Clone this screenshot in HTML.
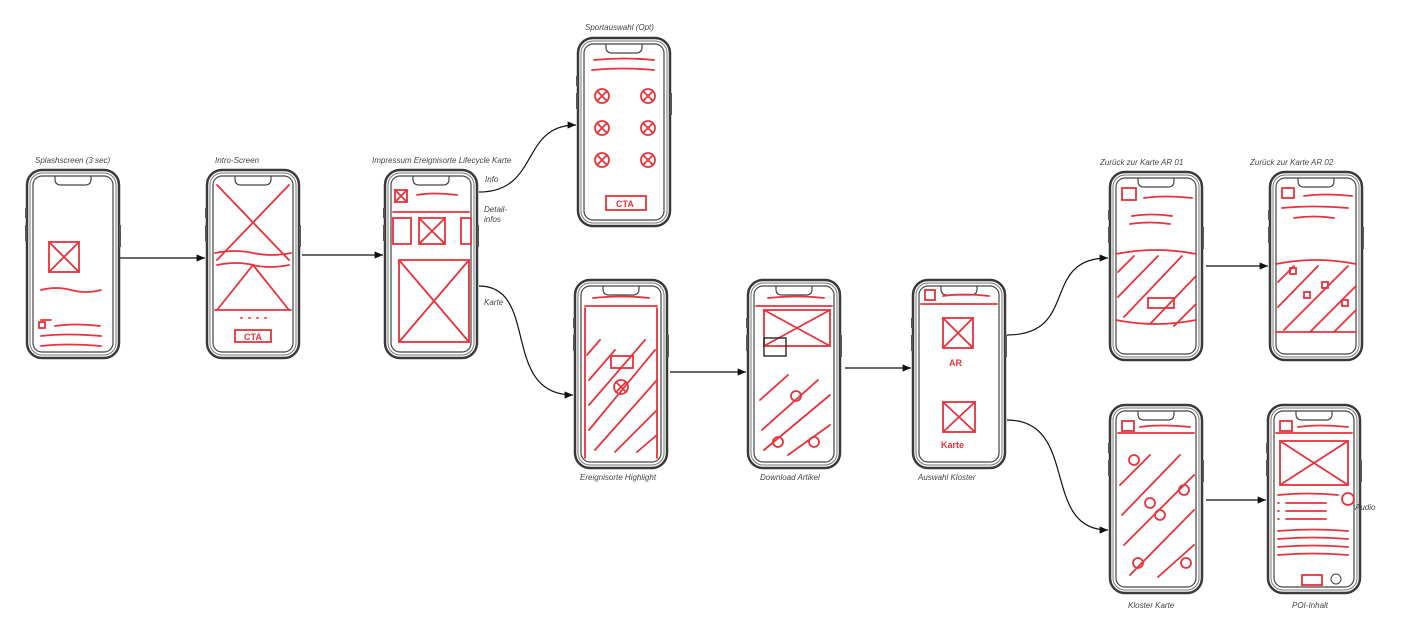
<!DOCTYPE html>
<html><head><meta charset="utf-8"><style>
html,body{margin:0;padding:0;background:#fff;width:1407px;height:623px;overflow:hidden}
svg{display:block}
.r{stroke:#e8323c;stroke-width:1.8;fill:none;stroke-linecap:round}
.t{font-family:"Liberation Sans",sans-serif;font-size:8px;fill:#444;font-style:italic}
.c{font-family:"Liberation Sans",sans-serif;font-size:9px;fill:#e8323c;font-weight:bold}
.a{stroke:#111;stroke-width:1.2;fill:none}
</style></head><body>
<svg width="1407" height="623" viewBox="0 0 1407 623">
<defs>
<g id="ph">
<rect x="0" y="0" width="92" height="188" rx="15" fill="none" stroke="#3a3a3a" stroke-width="2.5"/>
<rect x="3" y="3" width="86" height="182" rx="12" fill="none" stroke="#777" stroke-width="1"/>
<rect x="6" y="6" width="80" height="176" rx="9" fill="none" stroke="#444" stroke-width="1.2"/>
<path d="M28 6 v3 q0 6 6 6 h24 q6 0 6 -6 v-3" fill="none" stroke="#444" stroke-width="1.2"/>
<rect x="-2" y="38" width="2" height="10" fill="#555"/><rect x="-2" y="55" width="2" height="16" fill="#555"/><rect x="92" y="55" width="2" height="22" fill="#555"/>
</g>
<marker id="ar" markerWidth="8" markerHeight="8" refX="7" refY="4" orient="auto"><path d="M0 1 L7 4 L0 7z" fill="#111"/></marker>
</defs>
<!-- arrows -->
<path class="a" d="M120 258 H205" marker-end="url(#ar)"/>
<path class="a" d="M302 255 H383" marker-end="url(#ar)"/>
<path class="a" d="M479 192 C540 192 520 125 576 125" marker-end="url(#ar)"/>
<path class="a" d="M479 286 C540 286 500 395 573 395" marker-end="url(#ar)"/>
<path class="a" d="M670 372 H746" marker-end="url(#ar)"/>
<path class="a" d="M845 368 H911" marker-end="url(#ar)"/>
<path class="a" d="M1007 335 C1080 335 1040 258 1108 258" marker-end="url(#ar)"/>
<path class="a" d="M1206 266 H1268" marker-end="url(#ar)"/>
<path class="a" d="M1007 420 C1080 420 1040 530 1108 530" marker-end="url(#ar)"/>
<path class="a" d="M1206 500 H1266" marker-end="url(#ar)"/>

<!-- 1 splash -->
<text class="t" x="35" y="163">Splashscreen (3 sec)</text>
<g transform="translate(27,170)"><use href="#ph"/>
<rect class="r" x="22" y="72" width="30" height="30"/><path class="r" d="M22 72 L52 102 M52 72 L22 102"/>
<path class="r" d="M14 120 q15 -4 30 0 t30 0"/><path class="r" d="M14 150 h10 M28 156 q20 -3 45 0 M14 166 q25 -3 60 0 M14 176 q25 -3 60 0"/>
<rect class="r" x="12" y="152" width="6" height="6"/>
</g>
<!-- 2 intro -->
<text class="t" x="215" y="163">Intro-Screen</text>
<g transform="translate(207,170)"><use href="#ph"/>
<path class="r" d="M10 15 L82 90 M82 15 L10 90 M8 83 q20-4 38 0 t38 0 M10 95 q20-4 36 0 t36 0 M10 140 L46 95 L82 140 M8 140 h76"/>
<path class="r" d="M34 148 h1 M42 148 h1 M50 148 h1 M58 148 h1"/>
<rect class="r" x="28" y="160" width="36" height="12"/><text class="c" x="37" y="170">CTA</text>
</g>
<!-- 3 -->
<text class="t" x="372" y="163">Impressum Ereignisorte Lifecycle Karte</text>
<g transform="translate(385,170)"><use href="#ph"/>
<rect class="r" x="10" y="20" width="12" height="12"/><path class="r" d="M10 20 L22 32 M22 20 L10 32 M32 25 q15-3 40 0 M8 42 h76"/>
<rect class="r" x="8" y="48" width="18" height="26"/><rect class="r" x="34" y="48" width="26" height="26"/><path class="r" d="M34 48 L60 74 M60 48 L34 74"/><rect class="r" x="76" y="48" width="10" height="26"/>
<rect class="r" x="14" y="90" width="70" height="82"/><path class="r" d="M14 90 L84 172 M84 90 L14 172"/>
</g>
<text class="t" x="485" y="182">Info</text><text class="t" x="484" y="212">Detail-</text><text class="t" x="484" y="222">infos</text><text class="t" x="484" y="305">Karte</text>
<!-- 4 sport -->
<text class="t" x="585" y="30">Sportauswahl (Opt)</text>
<g transform="translate(578,38)"><use href="#ph"/>
<path class="r" d="M16 22 q30-3 60 0 M14 32 q30-3 62 0"/>
<g id="cx"><circle class="r" cx="24" cy="58" r="7"/><path class="r" d="M19 53 L29 63 M29 53 L19 63"/></g>
<use href="#cx" x="46"/><use href="#cx" y="32"/><use href="#cx" x="46" y="32"/><use href="#cx" y="64"/><use href="#cx" x="46" y="64"/>
<rect class="r" x="28" y="158" width="40" height="14"/><text class="c" x="38" y="169">CTA</text>
</g>
<!-- 5 -->
<text class="t" x="580" y="480">Ereignisorte Highlight</text>
<g transform="translate(575,280)"><use href="#ph"/>
<path class="r" d="M18 18 q30-3 56 0 M10 26 h72 M10 28 v150 M82 28 v150"/>
<rect class="r" x="36" y="76" width="22" height="12"/><circle class="r" cx="46" cy="107" r="7"/><path class="r" d="M41 102 L51 112 M51 102 L41 112"/>
<path class="r" d="M12 75 L25 60 M14 100 L40 70 M14 125 L70 60 M14 150 L80 70 M20 170 L82 100 M40 172 L82 130 M62 172 L82 155"/>
</g>
<!-- 6 -->
<text class="t" x="760" y="480">Download Artikel</text>
<g transform="translate(748,280)"><use href="#ph"/>
<path class="r" d="M20 18 q30-3 56 0 M8 26 h76"/><rect class="r" x="16" y="30" width="66" height="36"/><path class="r" d="M16 30 L82 66 M82 30 L16 66"/>
<rect x="16" y="58" width="22" height="18" fill="none" stroke="#333" stroke-width="1.5"/>
<path class="r" d="M12 120 L40 95 M14 150 L70 100 M16 170 L82 115 M40 175 L82 145"/>
<circle class="r" cx="48" cy="116" r="5"/><circle class="r" cx="30" cy="162" r="5"/><circle class="r" cx="66" cy="162" r="5"/>
</g>
<!-- 7 -->
<text class="t" x="918" y="480">Auswahl Kloster</text>
<g transform="translate(913,280)"><use href="#ph"/>
<rect class="r" x="12" y="10" width="10" height="10"/><path class="r" d="M30 16 q20-3 46 0 M8 24 h76"/>
<rect class="r" x="30" y="38" width="30" height="30"/><path class="r" d="M30 38 L60 68 M60 38 L30 68"/><text class="c" x="36" y="86" font-size="14">AR</text>
<rect class="r" x="30" y="122" width="32" height="30"/><path class="r" d="M30 122 L62 152 M62 122 L30 152"/><text class="c" x="28" y="168" font-size="14">Karte</text>
</g>
<!-- 8 -->
<text class="t" x="1100" y="165">Zurück zur Karte   AR 01</text>
<g transform="translate(1110,172)"><use href="#ph"/>
<rect class="r" x="12" y="16" width="14" height="12"/><path class="r" d="M34 26 q20-3 48 0 M22 44 q20-3 40 0 M20 52 q20-3 40 0"/>
<path class="r" d="M6 82 q40-8 80 0 M6 148 q40 8 80 0 M8 100 L24 84 M8 125 L48 84 M14 145 L72 84 M40 152 L86 104 M64 154 L86 132"/>
<rect class="r" x="38" y="126" width="26" height="10"/>
</g>
<!-- 9 -->
<text class="t" x="1250" y="165">Zurück zur Karte   AR 02</text>
<g transform="translate(1270,172)"><use href="#ph"/>
<rect class="r" x="12" y="16" width="12" height="10"/><path class="r" d="M34 24 q20-3 48 0 M12 36 q30-3 66 0 M24 46 q20-3 40 0"/>
<path class="r" d="M6 92 q40-8 80 0 M6 160 h80 M8 110 L24 94 M8 135 L48 94 M14 158 L78 94 M40 160 L86 114 M64 160 L86 138"/>
<rect class="r" x="20" y="96" width="6" height="6"/><rect class="r" x="52" y="110" width="6" height="6"/><rect class="r" x="72" y="128" width="6" height="6"/><rect class="r" x="34" y="120" width="6" height="6"/>
</g>
<!-- 10 -->
<text class="t" x="1128" y="608">Kloster Karte</text>
<g transform="translate(1110,405)"><use href="#ph"/>
<rect class="r" x="12" y="16" width="12" height="10"/><path class="r" d="M30 22 q20-3 50 0 M8 28 h76"/>
<path class="r" d="M10 80 L40 50 M12 110 L70 50 M14 140 L84 70 M20 170 L84 105 M48 172 L84 140"/>
<circle class="r" cx="24" cy="55" r="5"/><circle class="r" cx="74" cy="85" r="5"/><circle class="r" cx="40" cy="98" r="5"/><circle class="r" cx="50" cy="110" r="5"/><circle class="r" cx="28" cy="158" r="5"/><circle class="r" cx="76" cy="158" r="5"/>
</g>
<!-- 11 -->
<text class="t" x="1292" y="608">POI-Inhalt</text>
<g transform="translate(1268,405)"><use href="#ph"/>
<rect class="r" x="12" y="16" width="12" height="10"/><path class="r" d="M30 22 q20-3 50 0 M8 28 h76"/>
<rect class="r" x="12" y="36" width="68" height="44"/><path class="r" d="M12 36 L80 80 M80 36 L12 80"/>
<circle class="r" cx="80" cy="94" r="6"/>
<path class="r" d="M10 90 q30-3 60 0 M10 98 h1 M10 106 h1 M10 114 h1 M18 98 h40 M18 106 h40 M18 114 h40 M10 126 q35-3 70 0 M10 134 q35-3 70 0 M10 142 q35-3 70 0 M10 150 q35-3 70 0"/>
<rect class="r" x="34" y="170" width="20" height="10"/><circle cx="68" cy="174" r="5" fill="none" stroke="#444"/>
</g>
<text class="t" x="1355" y="510">Audio</text>
</svg>
</body></html>
